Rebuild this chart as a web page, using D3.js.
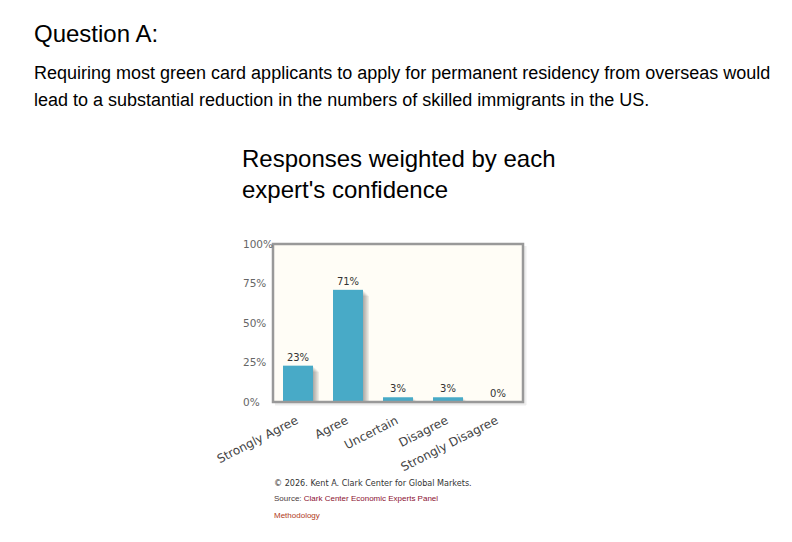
<!DOCTYPE html>
<html>
<head>
<meta charset="utf-8">
<script src="https://cdn.jsdelivr.net/npm/d3@7"></script>
<style>
  html, body { margin: 0; padding: 0; background: #ffffff; }
  svg { display: block; }
</style>
</head>
<body>
<svg id="chart" width="792" height="542"></svg>
<script>
// ---- data ----
const categories = ["Strongly Agree", "Agree", "Uncertain", "Disagree", "Strongly Disagree"];
const values = [23, 71, 3, 3, 0];
const yTicks = [0, 25, 50, 75, 100];
const heading = "Question A:";
const questionLines = [
  "Requiring most green card applicants to apply for permanent residency from overseas would",
  "lead to a substantial reduction in the numbers of skilled immigrants in the US."
];
const titleLines = ["Responses weighted by each", "expert's confidence"];

// ---- layout ----
const svg = d3.select("#chart");
const plot = { left: 273, right: 523, top: 244, bottom: 402 };

svg.append("text").attr("x", 34).attr("y", 42)
  .attr("font-family", "'Liberation Sans', Arial, sans-serif").attr("font-size", 24)
  .attr("fill", "#000").text(heading);

svg.selectAll("text.q").data(questionLines).join("text").attr("class", "q")
  .attr("x", 34).attr("y", (d, i) => 79 + i * 27)
  .attr("font-family", "'Liberation Sans', Arial, sans-serif").attr("font-size", 18)
  .attr("fill", "#000").text(d => d);

svg.selectAll("text.t").data(titleLines).join("text").attr("class", "t")
  .attr("x", 242).attr("y", (d, i) => 167 + i * 31)
  .attr("font-family", "'Liberation Sans', Arial, sans-serif").attr("font-size", 24)
  .attr("fill", "#000").text(d => d);

const x = d3.scaleBand().domain(categories).range([plot.left, plot.right])
  .paddingInner(0.4).paddingOuter(0.2);
const y = d3.scaleLinear().domain([0, 100]).range([plot.bottom, plot.top]);

// grid shadow
const gs = svg.append("g");
for (let k = 1; k <= 3; k++) {
  gs.append("path")
    .attr("d", `M${plot.left + 2},${plot.bottom + k} L${plot.right + k},${plot.bottom + k} L${plot.right + k},${plot.top + 2}`)
    .attr("fill", "none").attr("stroke", "#000").attr("stroke-opacity", 0.07).attr("stroke-width", 1);
}

// background
svg.append("rect").attr("x", plot.left).attr("y", plot.top)
  .attr("width", plot.right - plot.left).attr("height", plot.bottom - plot.top)
  .attr("fill", "#fffdf6");

svg.append("clipPath").attr("id", "clip").append("rect")
  .attr("x", plot.left).attr("y", plot.top)
  .attr("width", plot.right - plot.left).attr("height", plot.bottom - plot.top);

// bar shadows
const sh = svg.append("g").attr("clip-path", "url(#clip)");
for (let k = 1; k <= 5; k++) {
  sh.selectAll(null).data(values).join("rect")
    .attr("x", (d, i) => x(categories[i]) + k * 1.2)
    .attr("y", d => y(d) + k * 1.2)
    .attr("width", x.bandwidth())
    .attr("height", d => Math.max(0, y(0) - y(d)))
    .attr("fill", "#000").attr("fill-opacity", d => d > 0 ? 0.07 : 0);
}

// bars
svg.append("g").selectAll("rect").data(values).join("rect")
  .attr("x", (d, i) => x(categories[i]))
  .attr("y", d => y(d))
  .attr("width", x.bandwidth())
  .attr("height", d => y(0) - y(d))
  .attr("fill", "#48aac7");

// border
svg.append("rect").attr("x", plot.left).attr("y", plot.top)
  .attr("width", plot.right - plot.left).attr("height", plot.bottom - plot.top)
  .attr("fill", "none").attr("stroke", "#999999").attr("stroke-width", 2.5);

// y axis labels (left aligned)
const yAxis = d3.axisLeft(y).tickValues(yTicks).tickFormat(d => d + "%").tickSize(0);
const yg = svg.append("g").attr("transform", `translate(${plot.left},0)`).call(yAxis);
yg.select(".domain").remove();
yg.selectAll("text")
  .attr("text-anchor", "start").attr("x", 243 - plot.left).attr("dy", "0.3em")
  .attr("font-family", "'DejaVu Sans', Verdana, sans-serif").attr("font-size", 10.5)
  .attr("fill", "#666666");

// value labels
svg.append("g").selectAll("text").data(values).join("text")
  .attr("x", (d, i) => x(categories[i]) + x.bandwidth() / 2)
  .attr("y", d => y(d) - 5)
  .attr("text-anchor", "middle")
  .attr("font-family", "'DejaVu Sans', Verdana, sans-serif").attr("font-size", 10)
  .attr("fill", "#333333").text(d => d + "%");

// x axis labels (rotated)
const xAxis = d3.axisBottom(x).tickSize(0);
const xg = svg.append("g").attr("transform", `translate(0,${plot.bottom})`).call(xAxis);
xg.select(".domain").remove();
xg.selectAll(".tick text")
  .attr("text-anchor", "end")
  .attr("y", 0).attr("dy", 0)
  .attr("transform", "translate(1,21) rotate(-27)")
  .attr("font-family", "'DejaVu Sans', Verdana, sans-serif").attr("font-size", 12)
  .attr("fill", "#444444");

// footer
svg.append("text").attr("x", 274).attr("y", 486)
  .attr("font-family", "'DejaVu Sans', Verdana, sans-serif").attr("font-size", 8.1)
  .attr("fill", "#333333").text("© 2026. Kent A. Clark Center for Global Markets.");
const src = svg.append("text").attr("x", 274).attr("y", 501)
  .attr("font-family", "'Liberation Sans', Arial, sans-serif").attr("font-size", 8)
  .attr("fill", "#4a3a3a");
src.append("tspan").text("Source: ");
src.append("tspan").attr("fill", "#8b1030").text("Clark Center Economic Experts Panel");
svg.append("text").attr("x", 274).attr("y", 518)
  .attr("font-family", "'Liberation Sans', Arial, sans-serif").attr("font-size", 8)
  .attr("fill", "#b03a1a").text("Methodology");
</script>
</body>
</html>
